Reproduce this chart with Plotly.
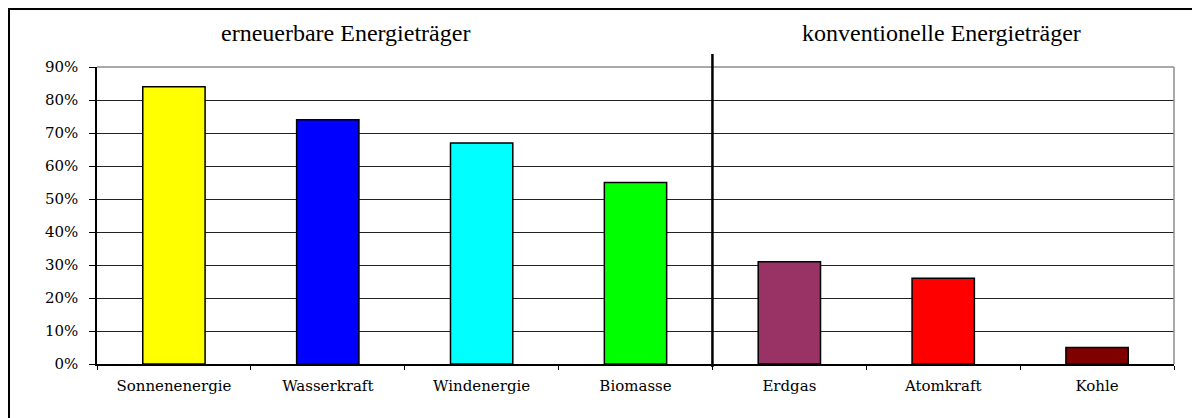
import plotly.graph_objects as go

categories = ["Sonnenenergie", "Wasserkraft", "Windenergie", "Biomasse",
              "Erdgas", "Atomkraft", "Kohle"]
values = [0.84, 0.74, 0.67, 0.55, 0.31, 0.26, 0.05]
bar_colors = ["#FFFF00", "#0000FF", "#00FFFF", "#00FF00",
              "#993366", "#FF0000", "#800000"]
group_titles = ["erneuerbare Energieträger", "konventionelle Energieträger"]
y_ticks = [0, 0.1, 0.2, 0.3, 0.4, 0.5, 0.6, 0.7, 0.8, 0.9]

SERIF = "Liberation Serif, Times New Roman, serif"
TICKSERIF = "DejaVu Serif, serif"

# page body has an 8px margin; figure pixel = reference pixel - 8
OFF = 8
W, H = 1192, 410
L, R, T, B = 97 - OFF, W - (1174 - OFF), 67 - OFF, H - (364 - OFF)
pw, ph = W - L - R, H - T - B


def px_x(p):
    return (p - OFF - L) / pw


def px_y(p):
    return (H - B - (p - OFF)) / ph


fig = go.Figure()
fig.add_trace(go.Bar(
    x=categories, y=values,
    marker=dict(color=bar_colors, line=dict(color="black", width=1.5)),
    width=0.405,
    hoverinfo="x+y",
))

shapes = [
    # outer frame (left + top visible)
    dict(type="rect", xref="paper", yref="paper",
         x0=px_x(9), x1=px_x(1230), y0=px_y(440), y1=px_y(9),
         line=dict(color="black", width=2), layer="above"),
    # plot area top and right border (gray)
    dict(type="line", xref="paper", yref="paper", x0=0, x1=1, y0=1, y1=1,
         line=dict(color="#8c8c8c", width=1.5), layer="above"),
    dict(type="line", xref="paper", yref="paper", x0=1, x1=1, y0=0, y1=1,
         line=dict(color="#8c8c8c", width=1.5), layer="above"),
    # divider between the two groups
    dict(type="line", xref="x", yref="paper", x0=3.5, x1=3.5,
         y0=px_y(367), y1=px_y(54),
         line=dict(color="black", width=2.5), layer="above"),
]

annotations = [
    dict(text=group_titles[0], xref="paper", yref="paper",
         x=px_x(345), y=px_y(33), xanchor="center", yanchor="middle",
         showarrow=False, font=dict(family=SERIF, size=24, color="black")),
    dict(text=group_titles[1], xref="paper", yref="paper",
         x=px_x(941), y=px_y(33), xanchor="center", yanchor="middle",
         showarrow=False, font=dict(family=SERIF, size=24, color="black")),
]

fig.update_layout(
    width=W, height=H,
    margin=dict(l=L, r=R, t=T, b=B),
    paper_bgcolor="white", plot_bgcolor="white",
    showlegend=False,
    bargap=0.595,
    shapes=shapes,
    annotations=annotations,
    xaxis=dict(
        type="category", showgrid=False,
        showline=True, linecolor="black", linewidth=1.5,
        ticks="outside", tickson="boundaries", ticklen=4,
        tickcolor="black", tickwidth=1,
        tickfont=dict(family=TICKSERIF, size=15, color="black"),
        ticklabelstandoff=7,
        fixedrange=True,
    ),
    yaxis=dict(
        range=[0, 0.9], tickvals=y_ticks, tickformat=".0%",
        showgrid=True, gridcolor="#222222", gridwidth=1,
        zeroline=False,
        showline=True, linecolor="black", linewidth=1.5,
        ticks="outside", ticklen=6, tickcolor="black", tickwidth=1,
        tickfont=dict(family=TICKSERIF, size=15, color="black"),
        ticklabelstandoff=8,
        fixedrange=True,
    ),
)

fig.write_html("out.html")
